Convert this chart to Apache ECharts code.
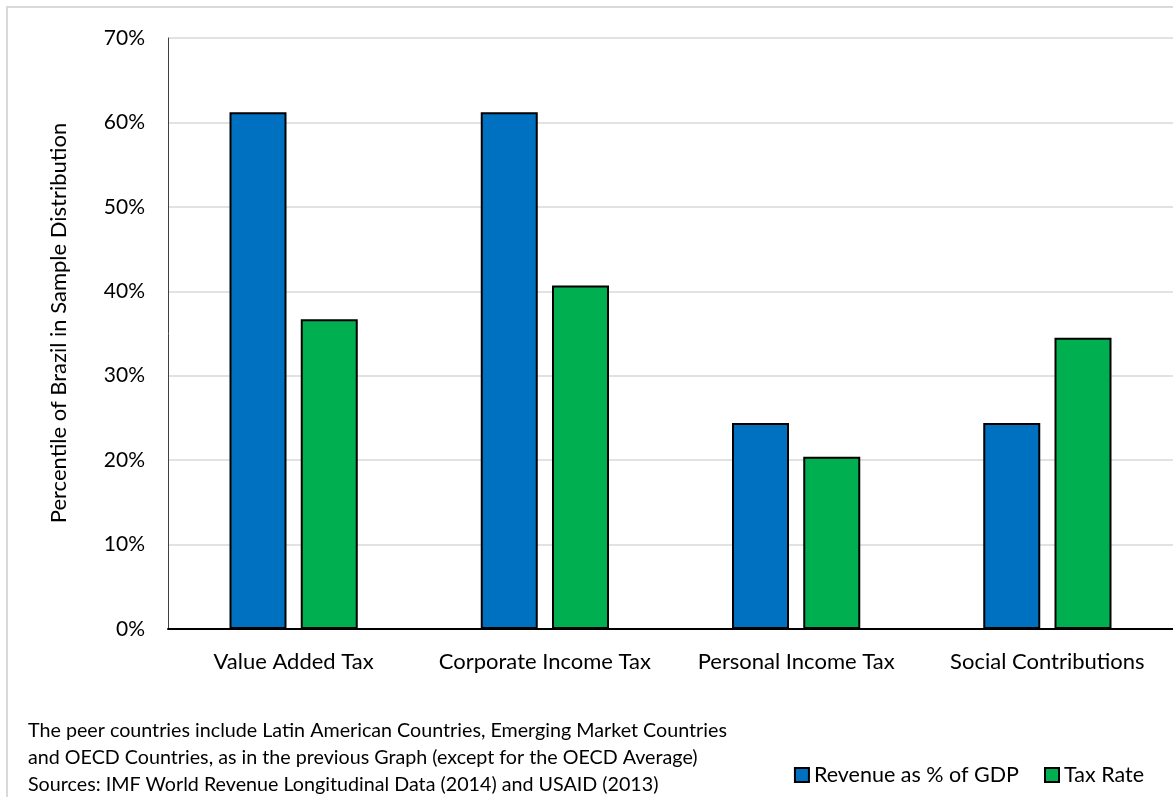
<!DOCTYPE html>
<html>
<head>
<meta charset="utf-8">
<script src="https://cdn.jsdelivr.net/npm/echarts@6/dist/echarts.min.js"></script>
<style>
  html, body { margin: 0; padding: 0; background: #fff; }
  #chart { width: 1173px; height: 797px; }
</style>
</head>
<body>
<div id="chart"></div>
<script>
// data
const categories = ['Value Added Tax', 'Corporate Income Tax', 'Personal Income Tax', 'Social Contributions']
const revenueShare = [61.2, 61.2, 24.4, 24.4]
const taxRate = [36.7, 40.7, 20.4, 34.5]
const seriesNames = ['Revenue as % of GDP', 'Tax Rate']
const yTitle = 'Percentile of Brazil in Sample Distribution'
const noteLines = [
  'The peer countries include Latin American Countries, Emerging Market Countries',
  'and OECD Countries, as in the previous Graph (except for the OECD Average)',
  'Sources: IMF World Revenue Longitudinal Data (2014) and USAID (2013)'
]

const font = 'Lato'
const chart = echarts.init(document.getElementById('chart'))

const option = {
  animation: false,
  textStyle: { fontFamily: font },
  grid: { left: 168, right: -3, top: 38, bottom: 168 },
  legend: {
    data: seriesNames,
    right: 24,
    top: 759,
    itemWidth: 14,
    itemHeight: 14,
    itemGap: 25,
    icon: 'rect',
    textStyle: { fontSize: 21.5, color: '#000' }
  },
  xAxis: {
    type: 'category',
    data: categories,
    axisLine: { lineStyle: { color: '#000', width: 2 } },
    axisTick: { show: false },
    axisLabel: { fontSize: 22, color: '#000', margin: 22, interval: 0 }
  },
  yAxis: {
    type: 'value',
    min: 0,
    max: 70,
    interval: 10,
    axisLine: { show: true, lineStyle: { color: '#404040', width: 1 } },
    axisTick: { show: false },
    axisLabel: { fontSize: 21, color: '#000', margin: 23, formatter: '{value}%' },
    splitLine: { lineStyle: { color: '#d9d9d9', width: 1.5 } }
  },
  series: [
    {
      name: seriesNames[0],
      type: 'bar',
      data: revenueShare,
      barWidth: 57,
      barGap: '25%',
      itemStyle: { color: '#0070c0', borderColor: '#000', borderWidth: 2 }
    },
    {
      name: seriesNames[1],
      type: 'bar',
      data: taxRate,
      barWidth: 57,
      itemStyle: { color: '#00b050', borderColor: '#000', borderWidth: 2 }
    }
  ],
  graphic: [
    {
      type: 'rect',
      shape: { x: 7, y: 7, width: 1180, height: 800 },
      style: { fill: 'none', stroke: '#d9d9d9', lineWidth: 2 },
      silent: true
    },
    {
      // y axis title
      type: 'text',
      x: 59,
      y: 323,
      rotation: Math.PI / 2,
      style: {
        text: yTitle, fontSize: 22, fill: '#000', fontFamily: font,
        align: 'center', verticalAlign: 'middle'
      }
    }
  ].concat(noteLines.map((t, i) => ({
    type: 'text',
    left: 28,
    top: 721 + i * 27,
    style: { text: t, fontSize: 19.7, fill: '#000', fontFamily: font }
  })))
}

chart.setOption(option)
</script>
</body>
</html>
